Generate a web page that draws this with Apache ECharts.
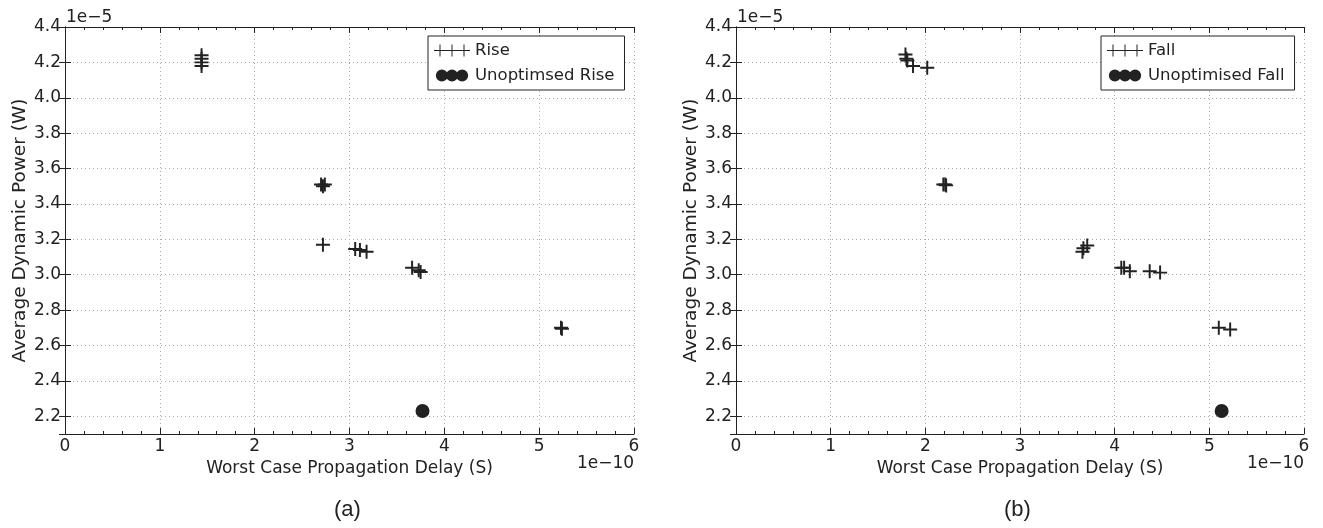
<!DOCTYPE html>
<html>
<head>
<meta charset="utf-8">
<script src="https://cdn.jsdelivr.net/npm/echarts@6/dist/echarts.min.js"></script>
<style>
  html, body { margin: 0; padding: 0; background: #fff; }
  #myChart { width: 1323px; height: 528px; }
</style>
</head>
<body>
<div id="myChart"></div>
<script>
// x in units of 1e-10 s, y in units of 1e-5 W
const riseX = [1.44, 1.44, 1.44, 1.44, 2.70, 2.72, 2.74, 2.72, 3.06, 3.11, 3.18, 3.66, 3.73, 3.75, 5.23, 5.24];
const riseY = [4.24, 4.22, 4.20, 4.18, 3.51, 3.50, 3.51, 3.17, 3.145, 3.14, 3.13, 3.04, 3.025, 3.015, 2.70, 2.695];
const unoptRiseX = [3.77];
const unoptRiseY = [2.23];

const fallX = [1.79, 1.80, 1.81, 1.87, 2.02, 2.19, 2.21, 2.22, 3.66, 3.67, 3.71, 4.07, 4.10, 4.16, 4.37, 4.48, 5.10, 5.22];
const fallY = [4.245, 4.22, 4.21, 4.18, 4.17, 3.51, 3.51, 3.505, 3.13, 3.15, 3.165, 3.04, 3.04, 3.02, 3.02, 3.012, 2.70, 2.69];
const unoptFallX = [5.13];
const unoptFallY = [2.23];

const xLabel = 'Worst Case Propagation Delay (S)';
const yLabel = 'Average Dynamic Power (W)';

const font = 'DejaVu Sans';
const ink = '#222';

function pairs(xs, ys) {
    return xs.map((x, i) => [x, ys[i]]);
}

// plus marker as filled path
const plus = 'path://M0,43H100V57H0Z M43,0H57V100H43Z';

// legend icons: three pluses / three dots
function threePlus() {
    let p = '';
    [6, 18, 30].forEach(c => {
        p += 'M' + (c - 6) + ',5.5H' + (c + 6) + 'V6.5H' + (c - 6) + 'Z ';
        p += 'M' + (c - 0.5) + ',0H' + (c + 0.5) + 'V12H' + (c - 0.5) + 'Z ';
    });
    return 'path://' + p;
}
function threeDots() {
    let p = '';
    [7, 18, 29].forEach(c => {
        p += 'M' + (c - 6.5) + ',6.5A6.5,6.5 0 1 0 ' + (c + 6.5) + ',6.5A6.5,6.5 0 1 0 ' + (c - 6.5) + ',6.5Z ';
    });
    return 'path://' + p;
}

function xAxes(gi) {
    const common = {
        gridIndex: gi, type: 'value', min: 0, max: 6, interval: 1,
        axisLine: { lineStyle: { color: ink, width: 1 } },
        axisTick: { inside: true, length: 6, lineStyle: { color: ink } },
        minorTick: { show: true, splitNumber: 5, length: 3, lineStyle: { color: ink } }
    };
    return [
        Object.assign({}, common, {
            position: 'bottom',
            name: xLabel, nameLocation: 'middle', nameGap: 26,
            nameTextStyle: { fontFamily: font, fontSize: 17, color: ink },
            axisLabel: { fontFamily: font, fontSize: 17, color: ink, margin: 4 },
            splitLine: { show: true, lineStyle: { color: '#aaa', type: [1, 3] } }
        }),
        Object.assign({}, common, {
            position: 'top',
            axisLabel: { show: false },
            splitLine: { show: false }
        })
    ];
}

function yAxes(gi) {
    const common = {
        gridIndex: gi, type: 'value', min: 2.1, max: 4.4, splitNumber: 11,
        axisLine: { lineStyle: { color: ink, width: 1 } },
        axisTick: { inside: true, length: 6, lineStyle: { color: ink } }
    };
    return [
        Object.assign({}, common, {
            position: 'left',
            name: yLabel, nameLocation: 'middle', nameGap: 35,
            nameTextStyle: { fontFamily: font, fontSize: 18.5, color: ink },
            axisLabel: {
                fontFamily: font, fontSize: 17, color: ink, margin: 4,
                showMinLabel: false,
                formatter: v => v.toFixed(1)
            },
            splitLine: { show: true, lineStyle: { color: '#aaa', type: [1, 3] } }
        }),
        Object.assign({}, common, {
            position: 'right',
            axisLabel: { show: false },
            splitLine: { show: false }
        })
    ];
}

function legend(left, names) {
    return {
        orient: 'vertical',
        left: left, top: 36,
        itemWidth: 36, itemHeight: 12, itemGap: 8,
        padding: [6, 10, 6, 6],
        borderColor: ink, borderWidth: 1, borderRadius: 0,
        backgroundColor: '#fff',
        textStyle: { fontFamily: font, fontSize: 16.5, color: ink },
        data: [
            { name: names[0], icon: threePlus() },
            { name: names[1], icon: threeDots() }
        ]
    };
}

function sideText(x, y, text, size, family) {
    return {
        type: 'text', left: x, top: y,
        style: { text: text, fontFamily: family || font, fontSize: size, fill: ink }
    };
}

let myEchart = echarts.init(document.getElementById('myChart'));
myEchart.setOption({
    animation: false,
    backgroundColor: '#fff',
    grid: [
        { left: 65, width: 569, top: 27, height: 407 },
        { left: 736, width: 568, top: 27, height: 407 }
    ],
    xAxis: xAxes(0).concat(xAxes(1)),
    yAxis: yAxes(0).concat(yAxes(1)),
    legend: [
        legend(428, ['Rise', 'Unoptimsed Rise']),
        legend(1101, ['Fall', 'Unoptimised Fall'])
    ],
    graphic: [
        sideText(66, 9, '1e\u22125', 17),
        sideText(737, 9, '1e\u22125', 17),
        sideText(577, 455, '1e\u221210', 17),
        sideText(1247, 455, '1e\u221210', 17),
        sideText(334, 499, '(a)', 22, 'Liberation Sans'),
        sideText(1004, 499, '(b)', 22, 'Liberation Sans')
    ],
    series: [
        {
            name: 'Rise', type: 'scatter', xAxisIndex: 0, yAxisIndex: 0,
            symbol: plus, symbolSize: 14,
            itemStyle: { color: ink, opacity: 1 },
            data: pairs(riseX, riseY)
        },
        {
            name: 'Unoptimsed Rise', type: 'scatter', xAxisIndex: 0, yAxisIndex: 0,
            symbol: 'circle', symbolSize: 14,
            itemStyle: { color: ink, opacity: 1 },
            data: pairs(unoptRiseX, unoptRiseY)
        },
        {
            name: 'Fall', type: 'scatter', xAxisIndex: 2, yAxisIndex: 2,
            symbol: plus, symbolSize: 14,
            itemStyle: { color: ink, opacity: 1 },
            data: pairs(fallX, fallY)
        },
        {
            name: 'Unoptimised Fall', type: 'scatter', xAxisIndex: 2, yAxisIndex: 2,
            symbol: 'circle', symbolSize: 14,
            itemStyle: { color: ink, opacity: 1 },
            data: pairs(unoptFallX, unoptFallY)
        }
    ]
});
window.addEventListener('resize', function () {
    myEchart.resize();
});
</script>
</body>
</html>
